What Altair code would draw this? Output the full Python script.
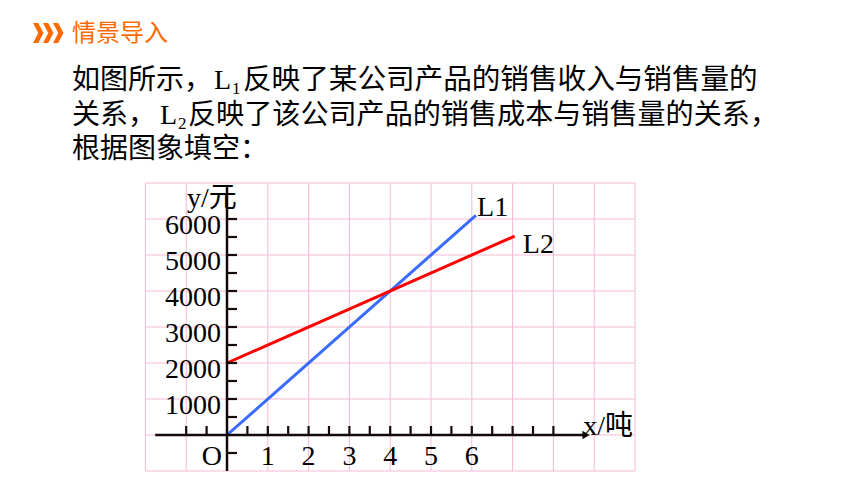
import altair as alt
import pandas as pd

# ---------------- data ----------------
x_grid = list(range(-2, 11))                 # vertical grid lines (x units)
y_grid = list(range(-1000, 8000, 1000))      # horizontal grid lines (yuan)
x_ticks = [v / 2 for v in range(-2, 17) if v != 0]
y_ticks = [v * 500 for v in range(-1, 13) if v != 0]
y_tick_labels = [1000, 2000, 3000, 4000, 5000, 6000]
x_tick_labels = [1, 2, 3, 4, 5, 6]

series = ["L1", "L2"]
l1_x = [0, 6.1]
l1_y = [0, 6100]
l2_x = [0, 7.05]
l2_y = [2000, 5525]

header = "情景导入"
line1 = ["如图所示，", "L", "1", "反映了某公司产品的销售收入与销售量的"]
line2 = ["关系，", "L", "2", "反映了该公司产品的销售成本与销售量的关系，"]
line3 = "根据图象填空："

# ---------------- styling ----------------
W, H = 844, 468
PINK = "#F6B9D6"
AXIS = "#150808"
BLUE = "#3A6BFF"
RED = "#FF0000"
ORANGE = "#FF6A00"
SERIF = "Liberation Serif"
MIXED = "'Liberation Serif', 'Noto Sans CJK SC'"
CJK = "Noto Sans CJK SC"

xs = alt.Scale(domain=[-219 / 40.8, (W - 219) / 40.8], nice=False, zero=False)
ys = alt.Scale(domain=[-(H - 427) / 0.036, 427 / 0.036], nice=False, zero=False)


def XD(v):
    return alt.XDatum(v, type="quantitative", scale=xs, axis=None)


def YD(v):
    return alt.YDatum(v, type="quantitative", scale=ys, axis=None)


def XF(f):
    return alt.X(f, type="quantitative", scale=xs, axis=None)


def YF(f):
    return alt.Y(f, type="quantitative", scale=ys, axis=None)


one = pd.DataFrame({"t": [""]})

vgrid = alt.Chart(pd.DataFrame({"x": x_grid})).mark_rule(color=PINK, strokeWidth=1).encode(
    x=XF("x"), y=YD(-1000), y2=alt.Y2Datum(7000)
)
hgrid = alt.Chart(pd.DataFrame({"y": y_grid})).mark_rule(color=PINK, strokeWidth=1).encode(
    y=YF("y"), x=XD(-2), x2=alt.X2Datum(10)
)

xaxis = alt.Chart(one).mark_rule(color=AXIS, strokeWidth=2.5).encode(
    x=XD(-1.76), x2=alt.X2Datum(8.8), y=YD(0)
)
yaxis = alt.Chart(one).mark_rule(color=AXIS, strokeWidth=2.5).encode(
    x=XD(0), y=YD(-1000), y2=alt.Y2Datum(6900)
)
arrow = alt.Chart(one).mark_point(shape="triangle-right", filled=True, size=70, color=AXIS, opacity=1).encode(
    x=XD(8.8), y=YD(0)
)
xt = alt.Chart(pd.DataFrame({"x": x_ticks})).mark_rule(color=AXIS, strokeWidth=2.2).encode(
    x=XF("x"), y=YD(0), y2=alt.Y2Datum(250)
)
yt = alt.Chart(pd.DataFrame({"y": y_ticks})).mark_rule(color=AXIS, strokeWidth=2.2).encode(
    y=YF("y"), x=XD(0), x2=alt.X2Datum(0.245)
)

lines_df = pd.DataFrame(
    {
        "s": [series[0]] * len(l1_x) + [series[1]] * len(l2_x),
        "x": l1_x + l2_x,
        "y": l1_y + l2_y,
    }
)
lines = alt.Chart(lines_df).mark_line(strokeWidth=3).encode(
    x=XF("x"),
    y=YF("y"),
    color=alt.Color("s:N", scale=alt.Scale(domain=series, range=[BLUE, RED]), legend=None),
)

ylab = alt.Chart(pd.DataFrame({"v": y_tick_labels})).mark_text(
    font=SERIF, fontSize=28, align="right", baseline="middle", dy=7, color="#000"
).encode(x=XD(-0.15), y=YF("v"), text="v:N")
xlab = alt.Chart(pd.DataFrame({"v": x_tick_labels})).mark_text(
    font=SERIF, fontSize=28, align="center", baseline="middle", color="#000"
).encode(x=XF("v"), y=YD(-611), text="v:N")


def dtext(s, x, y, font=MIXED, size=28, align="left"):
    return alt.Chart(pd.DataFrame({"t": [s]})).mark_text(
        font=font, fontSize=size, align=align, baseline="middle", color="#000"
    ).encode(x=XD(x), y=YD(y), text="t:N")


origin = dtext("O", -0.37, -611, font=SERIF, align="center")
ytitle = dtext("y/元", -0.98, 6555)
xtitle = dtext("x/吨", 8.73, 222)
lab1 = dtext("L1", 6.13, 6305, font=SERIF)
lab2 = dtext("L2", 7.25, 5278, font=SERIF)


def ptext(s, x, y, font=CJK, size=28, color="#000", baseline="alphabetic"):
    return alt.Chart(pd.DataFrame({"t": [s]})).mark_text(
        font=font, fontSize=size, align="left", baseline=baseline, color=color
    ).encode(x=alt.value(x), y=alt.value(y), text="t:N")


chev_path = "M-0.5,-1 L0.02,-1 L0.55,0 L0.02,1 L-0.5,1 L0.03,0 Z"
chevrons = [
    alt.Chart(one).mark_point(shape=chev_path, filled=True, size=400, color=ORANGE, opacity=1, strokeWidth=0).encode(
        x=alt.value(cx), y=alt.value(25)
    )
    for cx in (30, 40, 50)
]
head = ptext(header, 64, 25.5, size=24, color=ORANGE, baseline="middle")

b1 = 80.5
b2 = 115.5
b3 = 149.5
body = [
    ptext(line1[0], 64, b1),
    ptext(line1[1], 206, b1, font=SERIF),
    ptext(line1[2], 224, b1 + 5, font=SERIF, size=17),
    ptext(line1[3], 235, b1, size=28.6),
    ptext(line2[0], 64, b2),
    ptext(line2[1], 152, b2, font=SERIF),
    ptext(line2[2], 170, b2 + 5, font=SERIF, size=17),
    ptext(line2[3], 180, b2, size=28.1),
    ptext(line3, 64, b3),
]

chart = alt.layer(
    vgrid, hgrid, lines, xaxis, yaxis, arrow, xt, yt, ylab, xlab,
    origin, ytitle, xtitle, lab1, lab2, *chevrons, head, *body
).properties(
    width=W, height=H, padding=0, background="white",
    autosize=alt.AutoSizeParams(type="none"),
).configure_view(stroke=None)

chart.save("out.html", embed_options={"renderer": "svg", "actions": False})
